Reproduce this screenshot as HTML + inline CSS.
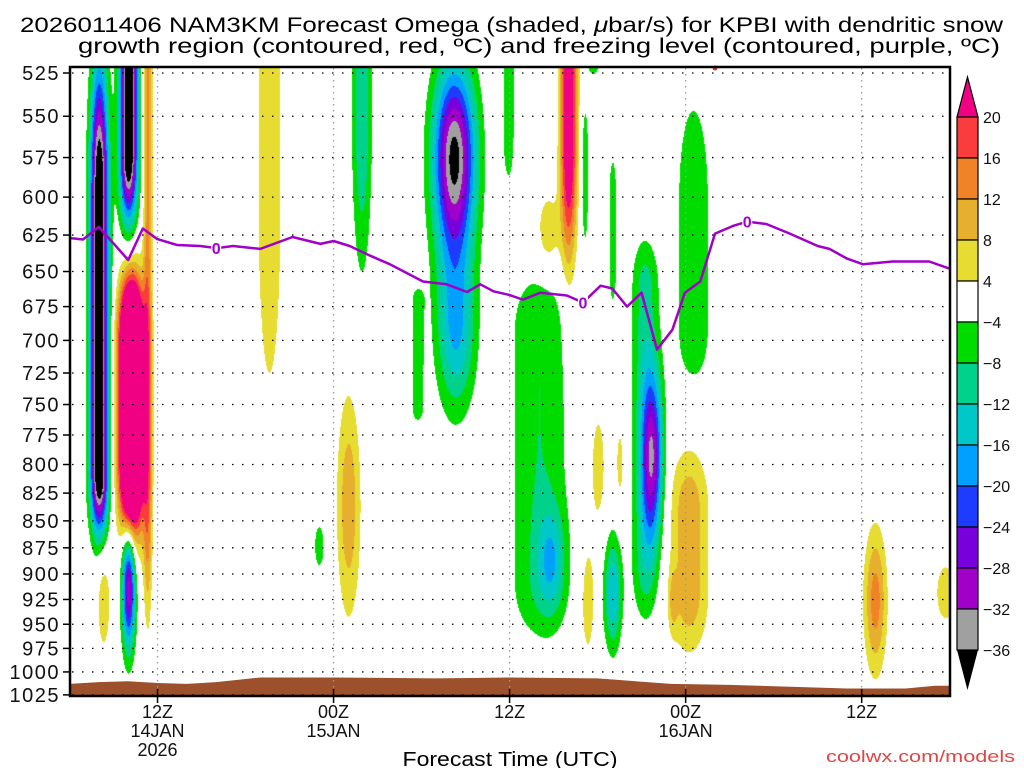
<!DOCTYPE html>
<html><head><meta charset="utf-8">
<style>
html,body{margin:0;padding:0;background:#fff;}
#wrap{position:relative;width:1024px;height:768px;overflow:hidden;font-family:"Liberation Sans",sans-serif;}
#field{position:absolute;left:70px;top:67px;}
#ov{position:absolute;left:0;top:0;}
</style></head>
<body>
<div id="wrap">
<canvas id="field" width="880" height="630"></canvas>
<svg id="ov" width="1024" height="768" font-family="Liberation Sans, sans-serif">
<g fill="#000" font-size="21">
<text x="20" y="32" textLength="983" lengthAdjust="spacingAndGlyphs">2026011406 NAM3KM Forecast Omega (shaded, <tspan font-style="italic">μ</tspan>bar/s) for KPBI with dendritic snow</text>
<text x="78" y="53" textLength="922" lengthAdjust="spacingAndGlyphs">growth region (contoured, red, ºC) and freezing level (contoured, purple, ºC)</text>
</g>
<g id="terrain"></g>
<g id="grid"></g>
<g id="frz"></g>
<g id="yax" font-size="20" letter-spacing="1.5"></g>
<g id="xax" font-size="18"></g>
<rect x="70" y="67" width="880" height="629" fill="none" stroke="#000" stroke-width="2.5"/>
<text x="510" y="766" text-anchor="middle" font-size="20" textLength="215" lengthAdjust="spacingAndGlyphs">Forecast Time (UTC)</text>
<text x="826" y="762" font-size="17" fill="#e04646" textLength="189" lengthAdjust="spacingAndGlyphs">coolwx.com/models</text>
<g id="cbar" font-size="16"></g>
</svg>
</div>
<script>
// ---- data ----
const hourStart = 0, hourEnd = 60; // hours after 06Z 14JAN
const pTickLabels = [525,550,575,600,625,650,675,700,725,750,775,800,825,850,875,900,925,950,975,1000,1025];
const timeTickHours = [6,18,30,42,54];
const timeTickLine1 = ["12Z","00Z","12Z","00Z","12Z"];
const timeTickLine2 = ["14JAN","15JAN","","16JAN",""];
const timeTickLine3 = ["2026","","","",""];
// omega cells: centre hour, top/bottom pressure of core, amplitude, half-width (h), taper above/below
const cellHour = [2.0,4.0,4.0,4.2,5.3,2.3,13.6,19.9,17,19,26.2,26.3,23.7,29.9,34,32.6,35.1,37,35.7,32,32.8,36,37.5,35.3,37,39.7,39.2,42.5,42.2,41.1,54.9,59.7];
const cellPTop = [602,507,911,700,507,926,507,507,873,836,575,692,670,507,507,622,565,602,507,692,886,802,799,926,918,793,662,602,840,926,926,918];
const cellPBot = [805,570,911,796,849,926,602,552,873,836,575,692,754,558,565,622,602,642,518,907,886,802,799,926,918,793,886,692,917,926,926,918];
const cellAmp = [-45,-45,-32,60,13,7,7,-12,-6,11,-38,-16,-6,-7,28,7,-6,-6,-6,-8,-11,6,5.5,7,-16,-26,-10,-7,11,6,14,6];
const cellWidth = [0.6,0.6,0.45,0.8,0.3,0.5,1.0,0.65,0.45,0.8,1.4,1.3,0.5,0.45,0.55,0.8,0.3,0.35,0.6,2.0,0.9,0.6,0.35,0.5,0.6,0.7,0.9,1.3,1.3,0.3,0.75,0.9];
const cellTaperTop = [130,50,61,60,30,55,40,30,30,110,90,80,15,30,30,40,50,60,10,60,50,70,50,60,55,80,50,120,60,30,70,40];
const cellTaperBot = [60,68,61,70,100,55,230,145,30,110,100,80,15,60,113,40,60,60,20,60,50,70,50,60,55,80,60,60,60,30,70,40];
// freezing level (0C) pressure
const frzHour = [0,0.92,2.0,2.76,4.0,5.0,5.96,7.33,8.9,10.05,11.15,13.0,15.2,17.1,18,19.1,20.5,21.85,24.1,25.7,27.1,28.0,28.9,30,30.9,32.1,33.9,35.0,36.2,37.0,38.0,39.0,40.05,41.1,41.95,43.0,44.0,45.2,46.2,47.5,49.1,51.0,51.8,53.0,54.1,56.1,58.6,60];
const frzP = [627,628,619.5,628,642,620.6,627.6,631.7,632.4,633.8,632.4,634.4,626.3,631,629,632.4,639,645,657,659,664.5,659,664,666.6,670,665,667,672,660,662,675,665,707,692,665,657,624,619,616,617.6,624,632.4,634.4,641,645,643,643,648];
const frzLabelHours = [10,35,46.2];
// surface pressure (terrain)
const sfcHour = [0,2,4,6,8,10,13,18,25,30,36,41,45,53,57,59,60];
const sfcP = [1013,1011,1010,1012,1013,1011,1006,1006,1007,1006,1007,1013,1014,1018,1018,1015,1015];
// colorbar
const cbLevels = ["20","16","12","8","4","−4","−8","−12","−16","−20","−24","−28","−32","−36"];
const cbColors = ["#fa3c3c","#f08228","#e6af2d","#e6dc32","#ffffff","#00dc00","#00d28c","#00c8c8","#00a0ff","#1e3cff","#7800dc","#a000c8","#a0a0a0"];

// ---- axes ----
const X0=69.5, PXH=14.67, Y0=73, PXL=929.5;
function xOf(h){return X0+(h-hourStart)*PXH;}
function yOf(p){return Y0+PXL*Math.log(p/525);}
const NS="http://www.w3.org/2000/svg";
function mk(tag,attrs,parent){const e=document.createElementNS(NS,tag);for(const k in attrs)e.setAttribute(k,attrs[k]);parent.appendChild(e);return e;}

// ---- field ----
(function(){
  const cv=document.getElementById('field');const ctx=cv.getContext('2d');
  const W=880,H=630,OX=70,OY=67;
  const img=ctx.createImageData(W,H);const d=img.data;
  const cells=cellHour.map((h,i)=>({cx:xOf(h)-OX,y1:yOf(cellPTop[i])-OY,y2:yOf(cellPBot[i])-OY,a:cellAmp[i],w:cellWidth[i]*PXH,tt:cellTaperTop[i],tb:cellTaperBot[i]}));
  function rgb(h){return [parseInt(h.slice(1,3),16),parseInt(h.slice(3,5),16),parseInt(h.slice(5,7),16)];}
  const pos=[rgb("#e6dc32"),rgb("#e6af2d"),rgb("#f08228"),rgb("#fa3c3c"),rgb("#f00082")];
  const neg=[rgb("#00dc00"),rgb("#00d28c"),rgb("#00c8c8"),rgb("#00a0ff"),rgb("#1e3cff"),rgb("#7800dc"),rgb("#a000c8"),rgb("#a0a0a0"),[0,0,0]];
  for(let y=0;y<H;y++){
    for(let x=0;x<W;x++){
      let v=0;
      for(const c of cells){
        const dx=(x-c.cx)/c.w; if(dx>3.2||dx<-3.2)continue;
        let fy=1;
        if(y<c.y1){const t=(c.y1-y)/c.tt;fy=Math.exp(-t*t);}
        else if(y>c.y2){const t=(y-c.y2)/c.tb;fy=Math.exp(-t*t);}
        v+=c.a*Math.exp(-dx*dx)*fy;
      }
      let col=null;
      if(v>=4){col=pos[Math.min(4,Math.floor((v-4)/4))];}
      else if(v<=-4){col=neg[Math.min(8,Math.floor((-v-4)/4))];}
      const k=(y*W+x)*4;
      if(col){d[k]=col[0];d[k+1]=col[1];d[k+2]=col[2];}else{d[k]=255;d[k+1]=255;d[k+2]=255;}
      d[k+3]=255;
    }
  }
  ctx.putImageData(img,0,0);
})();

// ---- terrain ----
(function(){
  const g=document.getElementById('terrain');
  let pts=sfcHour.map((h,i)=>xOf(h).toFixed(1)+","+yOf(sfcP[i]).toFixed(1));
  pts.push("950,696","70,696");
  const poly=mk('polygon',{points:pts.join(" "),fill:"#9c502b"},g);
  
  
})();

// ---- grid ----
(function(){
  const g=document.getElementById('grid');
  pTickLabels.forEach(p=>{
    const y=yOf(p);
    const l=mk('line',{x1:72,x2:948,y1:y,y2:y,stroke:"#000","stroke-width":1.3,"stroke-dasharray":"1.5,8.5"},g);
    
    
  });
  timeTickHours.forEach(h=>{
    const x=xOf(h);
    const l=mk('line',{x1:x,x2:x,y1:68,y2:695,stroke:"#999","stroke-width":1.3,"stroke-dasharray":"1.5,4.5"},g);
    
    
  });
})();

// ---- freezing level ----
(function(){
  const g=document.getElementById('frz');
  const pts=frzHour.map((h,i)=>xOf(h).toFixed(1)+","+yOf(frzP[i]).toFixed(1)).join(" ");
  const pl=mk('polyline',{points:pts,fill:"none",stroke:"#a000c8","stroke-width":2.5,"stroke-linejoin":"round"},g);
  
  
  frzLabelHours.forEach(h=>{
    let i=0;while(i<frzHour.length-2&&frzHour[i+1]<h)i++;
    const t=(h-frzHour[i])/(frzHour[i+1]-frzHour[i]);
    const p=frzP[i]+t*(frzP[i+1]-frzP[i]);
    const x=xOf(h),y=yOf(p);
    mk('rect',{x:x-5,y:y-7,width:10,height:14,fill:"#fff"},g);
    const tx=mk('text',{x:x,y:y+6,"text-anchor":"middle","font-size":16,fill:"#a000c8","font-weight":"bold"},g);
    tx.textContent="0";
    
    
  });
  const red=mk('circle',{cx:715,cy:68,r:2.5,fill:"#e03030"},g);
  
  
})();

// ---- y axis ----
(function(){
  const g=document.getElementById('yax');
  pTickLabels.forEach(p=>{
    const y=yOf(p);
    mk('line',{x1:63,x2:70,y1:y,y2:y,stroke:"#000","stroke-width":1.5},g);
    const t=mk('text',{x:60,y:y+7,"text-anchor":"end",fill:"#111"},g);
    t.textContent=p;
    
    
  });
})();

// ---- x axis ----
(function(){
  const g=document.getElementById('xax');
  timeTickHours.forEach((h,i)=>{
    const x=xOf(h);
    mk('line',{x1:x,x2:x,y1:689,y2:703,stroke:"#000","stroke-width":1.5},g);
    [[timeTickLine1[i],718],[timeTickLine2[i],737],[timeTickLine3[i],756]].forEach(([s,y])=>{
      if(!s)return;
      const t=mk('text',{x:x,y:y,"text-anchor":"middle",fill:"#111"},g);
      t.textContent=s;
      
      
    });
  });
})();

// ---- colorbar ----
(function(){
  const g=document.getElementById('cbar');
  const x=957,w=21,top=117,bh=41;
  const tri=mk('polygon',{points:`${x},${top} ${x+w},${top} ${x+w/2},${top-40}`,fill:"#f00082",stroke:"#000","stroke-width":1.2},g);
  
  
  cbColors.forEach((c,i)=>{
    const r=mk('rect',{x:x,y:top+i*bh,width:w,height:bh,fill:c,stroke:"#000","stroke-width":1.2},g);
    
    
  });
  const yb=top+cbColors.length*bh;
  const tri2=mk('polygon',{points:`${x},${yb} ${x+w},${yb} ${x+w/2},${yb+40}`,fill:"#000"},g);
  
  
  cbLevels.forEach((s,i)=>{
    const t=mk('text',{x:983,y:top+i*bh+6,fill:"#111"},g);
    t.textContent=s;
    
    
  });
})();
</script>
</body></html>
